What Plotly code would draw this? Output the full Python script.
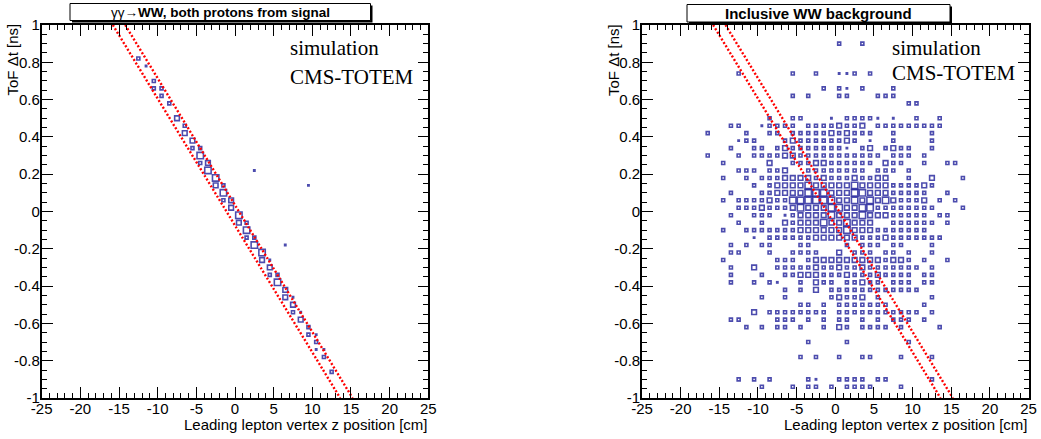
import plotly.graph_objects as go

W, H = 1041, 439

# ---------------- data ----------------
# signal panel: gamma gamma -> WW, both protons from signal
sig_z = [-12.5, -11.5, -10.5, -10.5, -9.5, -9.5, -8.5, -7.5, -6.5, -6.5, -5.5, -5.5,
         -4.5, -4.5, -4.5, -3.5, -3.5, -2.5, -2.5, -1.5, -1.5, -1.5, -0.5, -0.5,
         0.5, 0.5, 1.5, 1.5, 1.5, 2.5, 2.5, 3.5, 3.5, 4.5, 4.5, 4.5, 5.5, 5.5,
         6.5, 6.5, 7.5, 7.5, 7.5, 8.5, 8.5, 9.5, 9.5, 10.5, 10.5, 10.5, 11.5, 11.5,
         12.5, 2.5, 9.5, 6.5]
sig_dt = [0.82, 0.78, 0.70, 0.66, 0.66, 0.62, 0.58, 0.50, 0.46, 0.42, 0.38, 0.34,
          0.34, 0.30, 0.26, 0.26, 0.22, 0.18, 0.14, 0.14, 0.10, 0.06, 0.06, 0.02,
          -0.02, -0.06, -0.06, -0.10, -0.14, -0.14, -0.18, -0.22, -0.26, -0.26, -0.30, -0.34, -0.34, -0.38,
          -0.42, -0.46, -0.46, -0.50, -0.54, -0.54, -0.58, -0.62, -0.66, -0.66, -0.70, -0.74, -0.74, -0.78,
          -0.86, 0.22, 0.14, -0.18]
sig_n = [2, 1, 2, 2, 2, 2, 2, 3, 2, 3, 3, 2,
         2, 4, 2, 3, 4, 4, 3, 2, 4, 2, 3, 3,
         4, 3, 2, 4, 2, 2, 4, 4, 3, 1, 3, 2, 2, 4,
         3, 3, 1, 3, 2, 1, 3, 2, 2, 1, 2, 1, 1, 2,
         2, 1, 1, 1]

# background panel: inclusive WW, one row per Delta t bin
bkg_row_dt = [0.90, 0.74, 0.66, 0.62, 0.58, 0.50, 0.46, 0.42, 0.38, 0.34, 0.30, 0.26, 0.22,
              0.18, 0.14, 0.10, 0.06, 0.02, -0.02, -0.06, -0.10, -0.14, -0.18, -0.22, -0.26,
              -0.30, -0.34, -0.38, -0.42, -0.46, -0.50, -0.54, -0.58, -0.62, -0.70, -0.78,
              -0.90, -0.94]
bkg_row_z = [
    [0.5, 3.5],
    [-12.5, -5.5, -2.5, 0.5, 1.5, 2.5, 4.5],
    [-1.5, 0.5, 1.5, 3.5, 7.5],
    [-5.5, -3.5, 0.5, 1.5, 5.5, 6.5, 7.5],
    [9.5, 10.5],
    [-8.5, -5.5, -4.5, -0.5, 1.5, 2.5, 3.5, 4.5, 5.5, 7.5, 10.5, 13.5],
    [-13.5, -12.5, -9.5, -8.5, -7.5, -6.5, -5.5, -3.5, -2.5, -1.5, -0.5, 0.5, 1.5, 2.5, 3.5,
     5.5, 6.5, 7.5, 8.5, 9.5, 10.5, 11.5, 12.5, 13.5],
    [-16.5, -11.5, -8.5, -7.5, -5.5, -4.5, -3.5, -2.5, -1.5, -0.5, 0.5, 1.5, 2.5, 3.5, 4.5, 7.5, 12.5],
    [-12.5, -11.5, -10.5, -6.5, -5.5, -4.5, -3.5, -2.5, -1.5, -0.5, 0.5, 1.5, 2.5, 4.5, 7.5, 12.5],
    [-13.5, -10.5, -9.5, -7.5, -6.5, -5.5, -4.5, -3.5, -2.5, -1.5, -0.5, 0.5, 1.5, 3.5, 4.5,
     6.5, 7.5, 8.5, 9.5, 12.5],
    [-16.5, -12.5, -10.5, -9.5, -8.5, -7.5, -6.5, -5.5, -4.5, -3.5, -2.5, -1.5, -0.5, 0.5, 1.5,
     2.5, 3.5, 4.5, 5.5, 7.5, 8.5, 9.5, 11.5],
    [-14.5, -8.5, -5.5, -4.5, -3.5, -2.5, -1.5, -0.5, 0.5, 1.5, 2.5, 3.5, 4.5, 6.5, 7.5, 8.5,
     11.5, 14.5, 15.5],
    [-12.5, -11.5, -10.5, -8.5, -7.5, -6.5, -3.5, -2.5, -1.5, -0.5, 0.5, 1.5, 2.5, 3.5, 5.5,
     6.5, 7.5, 9.5],
    [-14.5, -11.5, -9.5, -8.5, -7.5, -6.5, -5.5, -4.5, -3.5, -2.5, -1.5, -0.5, 0.5, 1.5, 2.5,
     3.5, 4.5, 5.5, 6.5, 9.5, 12.5, 16.5],
    [-10.5, -8.5, -7.5, -6.5, -5.5, -4.5, -3.5, -2.5, -1.5, -0.5, 0.5, 1.5, 2.5, 3.5, 4.5,
     5.5, 6.5, 7.5, 8.5, 9.5, 10.5, 11.5, 12.5],
    [-13.5, -9.5, -8.5, -7.5, -6.5, -5.5, -4.5, -3.5, -2.5, -1.5, -0.5, 0.5, 1.5, 2.5, 3.5,
     4.5, 5.5, 6.5, 7.5, 8.5, 9.5, 10.5, 11.5, 14.5],
    [-14.5, -12.5, -11.5, -10.5, -9.5, -8.5, -7.5, -6.5, -5.5, -4.5, -3.5, -2.5, -1.5, -0.5,
     0.5, 1.5, 2.5, 3.5, 4.5, 5.5, 6.5, 7.5, 8.5, 9.5, 10.5, 11.5, 13.5, 15.5],
    [-12.5, -11.5, -10.5, -9.5, -8.5, -7.5, -6.5, -5.5, -4.5, -3.5, -2.5, -1.5, -0.5, 0.5,
     1.5, 2.5, 3.5, 4.5, 5.5, 6.5, 7.5, 8.5, 9.5, 10.5, 11.5, 12.5, 16.5],
    [-13.5, -10.5, -9.5, -8.5, -6.5, -5.5, -4.5, -3.5, -2.5, -1.5, -0.5, 0.5, 1.5, 2.5, 3.5,
     4.5, 5.5, 6.5, 7.5, 8.5, 9.5, 10.5, 11.5, 13.5, 14.5],
    [-12.5, -9.5, -6.5, -5.5, -4.5, -3.5, -2.5, -1.5, -0.5, 0.5, 1.5, 2.5, 3.5, 4.5, 7.5,
     8.5, 9.5, 10.5, 11.5, 12.5, 14.5],
    [-14.5, -11.5, -10.5, -9.5, -8.5, -7.5, -6.5, -5.5, -4.5, -3.5, -2.5, -1.5, -0.5, 0.5,
     1.5, 2.5, 3.5, 4.5, 5.5, 6.5, 7.5, 8.5, 9.5, 10.5, 11.5],
    [-10.5, -8.5, -7.5, -6.5, -5.5, -4.5, -3.5, -2.5, -1.5, -0.5, 0.5, 1.5, 2.5, 3.5, 4.5,
     5.5, 6.5, 7.5, 8.5, 9.5, 10.5, 11.5, 12.5, 13.5],
    [-13.5, -11.5, -9.5, -8.5, -4.5, -3.5, 1.5, 3.5, 4.5, 5.5, 7.5, 8.5, 12.5],
    [-13.5, -12.5, -8.5, -5.5, -4.5, -3.5, -2.5, 0.5, 2.5, 3.5, 4.5, 6.5, 7.5, 9.5, 12.5],
    [-14.5, -7.5, -6.5, -5.5, -3.5, -2.5, -1.5, -0.5, 0.5, 1.5, 2.5, 3.5, 4.5, 5.5, 6.5,
     7.5, 8.5, 9.5, 11.5, 14.5],
    [-13.5, -10.5, -7.5, -6.5, -5.5, -4.5, -3.5, -2.5, -1.5, -0.5, 0.5, 1.5, 2.5, 3.5, 4.5,
     5.5, 6.5, 7.5, 8.5, 9.5, 10.5, 12.5],
    [-13.5, -9.5, -6.5, -5.5, -4.5, -3.5, -2.5, -1.5, -0.5, 0.5, 1.5, 2.5, 3.5, 4.5, 5.5,
     6.5, 7.5, 8.5, 9.5, 11.5, 12.5],
    [-13.5, -10.5, -8.5, -7.5, -4.5, -2.5, -1.5, -0.5, 1.5, 2.5, 3.5, 4.5, 5.5, 7.5, 8.5,
     9.5, 11.5, 12.5],
    [-6.5, -4.5, -2.5, -0.5, 0.5, 1.5, 2.5, 3.5, 4.5, 5.5, 6.5, 7.5, 8.5, 9.5, 10.5],
    [-9.5, -6.5, -0.5, 0.5, 1.5, 2.5, 3.5, 5.5, 12.5],
    [-4.5, -3.5, -1.5, 0.5, 1.5, 2.5, 3.5, 4.5, 5.5, 6.5, 11.5],
    [-10.5, -8.5, -7.5, -6.5, -5.5, -4.5, -3.5, -2.5, -1.5, 0.5, 1.5, 2.5, 3.5, 4.5, 5.5,
     6.5, 7.5, 8.5, 9.5, 10.5, 12.5],
    [-13.5, -12.5, -7.5, -6.5, -5.5, -3.5, -1.5, 0.5, 1.5, 3.5, 5.5, 7.5, 8.5, 9.5, 11.5],
    [-11.5, -9.5, -7.5, -6.5, -4.5, -1.5, 0.5, 1.5, 3.5, 4.5, 5.5, 6.5, 8.5, 13.5],
    [-3.5, 1.5, 9.5],
    [-4.5, -2.5, 0.5, 3.5, 4.5, 8.5, 12.5],
    [-12.5, -10.5, -8.5, -3.5, -2.5, 0.5, 1.5, 2.5, 3.5, 5.5, 6.5, 12.5],
    [-9.5, -5.5, -3.5, -2.5, -0.5, 1.5, 2.5, 3.5, 4.5, 8.5],
]
bkg_row_n = [
    [2, 2],
    [2, 2, 2, 1, 1, 2, 2],
    [2, 2, 1, 2, 2],
    [2, 2, 2, 2, 2, 2, 2],
    [2, 2],
    [2, 2, 2, 1, 2, 2, 2, 2, 1, 1, 2, 2],
    [2, 2, 1, 2, 2, 2, 2, 2, 2, 2, 2, 3, 2, 2, 3, 2, 2, 2, 2, 2, 2, 2, 2, 2],
    [2, 2, 2, 2, 2, 2, 2, 2, 2, 3, 2, 3, 2, 2, 2, 2, 2],
    [1, 2, 2, 2, 3, 2, 2, 2, 2, 2, 2, 3, 2, 1, 2, 2],
    [2, 2, 2, 2, 3, 2, 2, 2, 2, 2, 2, 2, 1, 2, 3, 2, 3, 2, 2, 2],
    [2, 2, 2, 2, 2, 2, 3, 3, 2, 2, 2, 2, 2, 2, 2, 2, 2, 2, 2, 2, 2, 2, 2],
    [2, 3, 2, 2, 2, 3, 3, 2, 2, 2, 2, 2, 2, 3, 2, 2, 2, 2, 2],
    [2, 2, 2, 2, 2, 3, 2, 2, 2, 2, 2, 2, 2, 2, 2, 2, 2, 2],
    [2, 2, 2, 2, 2, 3, 3, 3, 3, 2, 3, 2, 2, 2, 3, 2, 2, 3, 3, 2, 3, 2],
    [2, 2, 3, 3, 3, 3, 4, 3, 3, 3, 3, 3, 4, 3, 3, 3, 3, 2, 2, 2, 2, 3, 2],
    [2, 2, 2, 3, 3, 3, 3, 4, 4, 4, 3, 3, 3, 4, 4, 3, 3, 3, 2, 2, 2, 2, 2, 2],
    [2, 2, 2, 2, 2, 3, 2, 2, 4, 4, 4, 4, 4, 4, 3, 3, 4, 3, 4, 3, 4, 3, 2, 2, 2, 3, 2, 2],
    [2, 2, 2, 3, 2, 2, 2, 3, 4, 3, 3, 3, 4, 4, 3, 3, 4, 4, 2, 2, 2, 2, 2, 2, 2, 2, 2],
    [2, 2, 2, 2, 1, 2, 3, 3, 3, 3, 4, 3, 3, 3, 4, 3, 3, 3, 2, 2, 2, 2, 2, 2, 2],
    [2, 2, 3, 2, 3, 3, 3, 4, 3, 3, 4, 3, 3, 3, 2, 2, 2, 2, 2, 2, 2],
    [2, 2, 2, 2, 2, 2, 2, 2, 3, 3, 3, 3, 3, 3, 4, 3, 3, 3, 2, 2, 2, 2, 2, 2, 2],
    [1, 2, 2, 2, 2, 2, 2, 3, 3, 3, 3, 3, 3, 2, 2, 2, 3, 2, 2, 2, 2, 2, 2, 2],
    [2, 2, 2, 2, 2, 2, 2, 2, 2, 2, 2, 2, 2],
    [2, 2, 2, 2, 2, 2, 2, 3, 2, 2, 2, 2, 2, 2, 2],
    [2, 2, 2, 2, 2, 3, 3, 3, 3, 3, 3, 3, 3, 3, 2, 3, 3, 2, 2, 2],
    [2, 3, 2, 2, 2, 2, 2, 3, 2, 2, 3, 2, 2, 3, 2, 2, 2, 2, 2, 2, 2, 2],
    [2, 2, 2, 2, 3, 3, 3, 2, 2, 2, 3, 2, 2, 2, 3, 2, 2, 2, 2, 2, 2],
    [2, 2, 2, 1, 2, 3, 2, 2, 2, 2, 3, 2, 2, 2, 2, 2, 2, 2],
    [2, 2, 3, 2, 2, 2, 2, 2, 2, 2, 2, 2, 2, 2, 2],
    [2, 2, 2, 3, 2, 2, 3, 2, 2],
    [2, 2, 2, 2, 2, 2, 2, 2, 2, 2, 2],
    [3, 2, 2, 2, 2, 2, 2, 2, 2, 2, 2, 2, 2, 2, 2, 2, 2, 2, 2, 2, 2],
    [2, 2, 2, 2, 2, 2, 2, 2, 2, 2, 2, 2, 2, 2, 2],
    [2, 2, 2, 2, 2, 2, 3, 2, 2, 2, 2, 2, 2, 2],
    [2, 2, 2],
    [2, 2, 2, 2, 2, 2, 2],
    [2, 2, 2, 2, 1, 2, 2, 2, 2, 2, 2, 2],
    [2, 2, 2, 2, 2, 2, 2, 2, 2, 2],
]

# dotted signal-window lines (z at dt = +1 and dt = -1)
band_dt = [1.0, -1.0]
band_z_low = [-15.8, 13.6]
band_z_high = [-14.2, 15.2]

x_tick_vals = [-25, -20, -15, -10, -5, 0, 5, 10, 15, 20, 25]
x_tick_text = ["-25", "-20", "-15", "-10", "-5", "0", "5", "10", "15", "20", "25"]
y_tick_vals = [1, 0.8, 0.6, 0.4, 0.2, 0, -0.2, -0.4, -0.6, -0.8, -1]
y_tick_text = ["1", "0.8", "0.6", "0.4", "0.2", "0", "-0.2", "-0.4", "-0.6", "-0.8", "-1"]

panel_titles = ["γγ→<b>WW, both protons from signal</b>", "<b>Inclusive WW background</b>"]
x_title = "Leading lepton vertex z position [cm]"
y_title = "ToF Δt [ns]"

# ---------------- figure ----------------
bkg_z, bkg_dt, bkg_n = [], [], []
for dt, zs, ns in zip(bkg_row_dt, bkg_row_z, bkg_row_n):
    for z, n in zip(zs, ns):
        bkg_z.append(z)
        bkg_dt.append(dt)
        bkg_n.append(n)

BOX = "rgb(0,0,140)"
LW = 1.6


def box_trace(z, dt, n, xa, ya):
    sizes = [max(1.2 + c * 1.7 - LW, 0.8) for c in n]
    return go.Scatter(x=z, y=dt, mode="markers", xaxis=xa, yaxis=ya,
                      marker=dict(symbol="square-open", size=sizes, color=BOX,
                                  line=dict(width=LW, color=BOX)),
                      showlegend=False, hoverinfo="skip")


def band_traces(xa, ya):
    out = []
    for zz in (band_z_low, band_z_high):
        out.append(go.Scatter(x=zz, y=band_dt, mode="lines", xaxis=xa, yaxis=ya,
                              line=dict(color="rgb(255,0,0)", width=2.4, dash="2px,2px"),
                              showlegend=False, hoverinfo="skip"))
    return out


fig = go.Figure()
fig.add_trace(box_trace(sig_z, sig_dt, sig_n, "x", "y"))
for t in band_traces("x", "y"):
    fig.add_trace(t)
fig.add_trace(box_trace(bkg_z, bkg_dt, bkg_n, "x2", "y2"))
for t in band_traces("x2", "y2"):
    fig.add_trace(t)


def px(v):
    return v / W


def py(v):
    return 1 - v / H


tickfont = dict(family="Liberation Sans, Arial, sans-serif", size=15, color="black")
ydom = [py(398), py(25)]
xcommon = dict(range=[-25, 25], tickmode="array", tickvals=x_tick_vals, ticktext=x_tick_text,
               ticks="inside", ticklen=11, tickwidth=1, tickcolor="black",
               showline=True, linecolor="black", linewidth=1.6, mirror="allticks",
               showgrid=False, zeroline=False, tickfont=tickfont, automargin=False,
               ticklabelstandoff=-4)
ycommon = dict(range=[-1, 1], tickmode="array", tickvals=y_tick_vals, ticktext=y_tick_text,
               ticks="inside", ticklen=11, tickwidth=1, tickcolor="black",
               showline=True, linecolor="black", linewidth=1.6, mirror="allticks",
               showgrid=False, zeroline=False, tickfont=tickfont, automargin=False,
               domain=ydom, ticklabelstandoff=-3)
# overlay axes carrying the minor ticks
xminor = dict(range=[-25, 25], tickmode="linear", tick0=-25, dtick=1, ticks="inside",
              ticklen=5, tickwidth=1, tickcolor="black", showticklabels=False, showline=False,
              mirror="allticks", showgrid=False, zeroline=False, automargin=False)
yminor = dict(range=[-1, 1], tickmode="linear", tick0=-1, dtick=0.05, ticks="inside",
              ticklen=5, tickwidth=1, tickcolor="black", showticklabels=False, showline=False,
              mirror="allticks", showgrid=False, zeroline=False, automargin=False, domain=ydom)

left_dom = [px(41.7), px(428.3)]
right_dom = [px(642), px(1028.6)]

fig.update_layout(
    width=W, height=H,
    margin=dict(l=0, r=0, t=0, b=0),
    paper_bgcolor="white", plot_bgcolor="white",
    xaxis=dict(xcommon, domain=left_dom, anchor="y"),
    yaxis=dict(ycommon, anchor="x"),
    xaxis2=dict(xcommon, domain=right_dom, anchor="y2"),
    yaxis2=dict(ycommon, anchor="x2"),
    xaxis3=dict(xminor, domain=left_dom, anchor="y3", overlaying="x"),
    yaxis3=dict(yminor, anchor="x3", overlaying="y"),
    xaxis4=dict(xminor, domain=right_dom, anchor="y4", overlaying="x2"),
    yaxis4=dict(yminor, anchor="x4", overlaying="y2"),
)
# invisible traces so the minor-tick axes are drawn
fig.add_trace(go.Scatter(x=[None], y=[None], xaxis="x3", yaxis="y3", showlegend=False, hoverinfo="skip"))
fig.add_trace(go.Scatter(x=[None], y=[None], xaxis="x4", yaxis="y4", showlegend=False, hoverinfo="skip"))

shapes = []
annotations = []
title_boxes = [(70, 370.5, 3.5, 20.5, 13.5), (687, 950, 4.5, 22, 15)]
for (x0, x1, y0, y1, fs), title in zip(title_boxes, panel_titles):
    shapes.append(dict(type="rect", xref="paper", yref="paper",
                       x0=px(x0 + 2), x1=px(x1 + 2), y0=py(y1 + 2), y1=py(y0 + 2),
                       fillcolor="black", line=dict(width=0), layer="above"))
    shapes.append(dict(type="rect", xref="paper", yref="paper",
                       x0=px(x0), x1=px(x1), y0=py(y1), y1=py(y0),
                       fillcolor="white", line=dict(color="black", width=1), layer="above"))
    annotations.append(dict(text=title, xref="paper", yref="paper",
                            x=px((x0 + x1) / 2), y=py((y0 + y1) / 2 + 0.5),
                            xanchor="center", yanchor="middle", showarrow=False,
                            font=dict(family="Liberation Sans, Arial, sans-serif", size=fs, color="black")))

serif = dict(family="Liberation Serif, Times New Roman, serif", size=21, color="black")
for xl, ys in ((288, (48, 77)), (890, (48, 73))):
    annotations.append(dict(text="simulation", xref="paper", yref="paper", x=px(xl), y=py(ys[0]),
                            xanchor="left", yanchor="middle", showarrow=False, font=serif))
    annotations.append(dict(text="CMS-TOTEM", xref="paper", yref="paper", x=px(xl), y=py(ys[1]),
                            xanchor="left", yanchor="middle", showarrow=False, font=serif))

for xr, xt in ((428.5, 12.5), (1029, 614)):
    annotations.append(dict(text=x_title, xref="paper", yref="paper", x=px(xr), y=py(424),
                            xanchor="right", yanchor="middle", showarrow=False, font=tickfont))
    annotations.append(dict(text=y_title, xref="paper", yref="paper", x=px(xt), y=py(22),
                            xanchor="center", yanchor="top", textangle=-90, showarrow=False,
                            font=tickfont))

fig.update_layout(shapes=shapes, annotations=annotations)
fig.write_html("out.html", config={"displayModeBar": False},
               post_script="document.body.style.margin='0px';document.body.style.overflow='hidden';")
